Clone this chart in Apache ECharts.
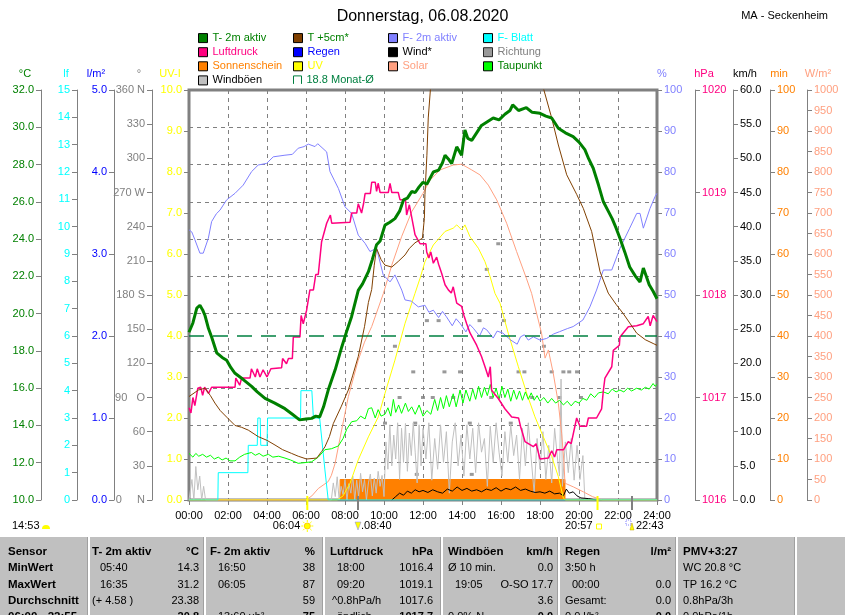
<!DOCTYPE html>
<html><head><meta charset="utf-8">
<script src="https://cdn.jsdelivr.net/npm/echarts@6/dist/echarts.min.js"></script>
<style>html,body{margin:0;padding:0;background:#fff}#c{width:845px;height:615px}</style>
</head><body><div id="c"></div>
<script>
// ---------- DATA (time in hours) ----------
const titleText = 'Donnerstag, 06.08.2020';
const stationText = 'MA - Seckenheim';
const monthAvg = 18.8;

const t2m = [[0,19.0],[0.1,18.95],[0.2,19.5],[0.4,20.3],[0.56,20.45],[0.7,20.2],[0.82,19.9],[1.0,19.2],[1.16,18.75],[1.42,17.9],[1.7,17.65],[1.93,17.5],[2.15,17.1],[2.36,16.8],[2.8,16.45],[3.21,16.1],[3.5,15.8],[3.9,15.45],[4.4,15.2],[4.92,14.9],[5.3,14.6],[5.67,14.3],[6.0,14.35],[6.29,14.38],[6.5,14.5],[6.7,14.45],[6.9,15.0],[7.14,15.9],[7.5,17.0],[7.83,18.2],[8.1,19.1],[8.34,19.85],[8.68,21.25],[8.9,21.6],[9.2,22.25],[9.4,22.9],[9.62,23.7],[9.8,23.9],[10.05,24.75],[10.3,24.9],[10.56,25.1],[10.8,25.5],[11.0,26.1],[11.2,26.2],[11.42,26.55],[11.6,26.5],[11.8,26.8],[12.0,27.05],[12.2,26.95],[12.53,27.6],[12.8,27.7],[13.0,28.1],[13.13,28.5],[13.3,28.3],[13.47,28.05],[13.73,28.95],[13.98,28.5],[14.15,29.85],[14.3,29.4],[14.5,29.3],[14.75,29.7],[15.0,30.1],[15.3,30.3],[15.6,30.5],[15.9,30.4],[16.2,30.7],[16.46,30.9],[16.6,31.2],[16.9,30.9],[17.3,31.05],[17.6,30.8],[18.0,30.75],[18.3,30.6],[18.6,30.5],[18.94,29.95],[19.3,29.7],[19.7,29.5],[20.0,29.2],[20.3,28.8],[20.5,28.3],[20.73,27.8],[21.0,26.9],[21.25,26.0],[21.5,25.5],[21.7,25.1],[21.9,24.6],[22.1,24.05],[22.35,23.3],[22.6,22.5],[22.9,22.0],[23.13,21.7],[23.3,22.45],[23.45,22.0],[23.6,21.55],[23.8,21.2],[24,20.8]];

const t5cm = [[0,15.55],[0.48,15.9],[0.82,16.0],[1.1,15.6],[1.33,15.2],[1.6,14.8],[1.93,14.45],[2.36,14.0],[2.7,13.9],[3.04,13.75],[3.55,13.4],[4.0,13.2],[4.41,12.95],[4.8,12.7],[5.26,12.5],[5.6,12.35],[6.03,12.2],[6.55,12.25],[6.8,12.6],[6.97,12.85],[7.2,13.4],[7.4,14.1],[7.8,15.0],[8.17,15.9],[8.4,16.7],[8.68,17.7],[9.0,19.3],[9.2,20.6],[9.37,21.3],[9.5,22.6],[9.62,23.5],[9.85,22.9],[10.05,22.6],[10.4,22.5],[10.73,22.8],[11.08,23.15],[11.3,23.5],[11.59,23.8],[11.97,24.05],[12.07,25.1],[12.1,26.4],[12.2,28.5],[12.27,30.5],[12.4,32.3],[12.6,35],[13,40],[14,45],[15,45],[16,43],[17,38],[17.8,33.5],[18.2,32.0],[18.6,30.5],[18.94,29.05],[19.37,27.45],[19.88,26.4],[20.22,25.65],[20.65,24.4],[21.08,22.25],[21.5,21.1],[21.9,20.5],[22.27,20.0],[22.6,19.5],[22.96,18.95],[23.4,18.6],[23.8,18.4],[24,18.3]];

const hum = [[0,65.9],[0.14,65.4],[0.3,63.5],[0.56,60.2],[0.73,60.2],[0.99,63.8],[1.16,67.9],[1.4,69.8],[1.59,70.7],[1.93,73.2],[2.36,74.8],[2.78,76.8],[3.21,80.1],[3.55,81.7],[3.98,82.1],[4.32,83.7],[4.92,84.1],[5.3,84.3],[5.6,85.8],[5.9,86.2],[6.12,86.8],[6.46,86.2],[6.6,86.9],[6.7,86.8],[7.06,84.9],[7.23,80.1],[7.45,78.0],[7.66,76.0],[8.0,71.5],[8.34,69.9],[8.68,64.6],[9.03,62.6],[9.28,60.6],[9.62,61.4],[9.96,54.9],[10.31,53.2],[10.56,54.9],[10.91,51.2],[11.08,48.8],[11.4,48.5],[11.76,47.1],[12.1,47.5],[12.3,45.8],[12.53,46.3],[12.8,44.5],[13.0,46.0],[13.2,44.7],[13.5,42.5],[13.7,44.2],[13.9,43.1],[14.2,41.0],[14.4,42.8],[14.58,41.9],[14.9,40.0],[15.1,42.0],[15.27,41.5],[15.6,39.5],[15.8,41.2],[16.1,40.7],[16.5,39.0],[16.83,38.0],[17.0,39.8],[17.2,40.3],[17.4,39.0],[17.66,39.8],[18.0,39.0],[18.34,39.4],[18.7,40.5],[19.0,41.05],[19.4,41.8],[19.7,42.3],[20.2,43.9],[20.56,47.1],[20.9,51.2],[21.25,56.1],[21.68,56.1],[22.1,61.4],[22.6,66.3],[22.96,69.9],[23.13,69.9],[23.3,66.3],[23.64,71.1],[23.9,74.0],[24,74.8]];

const leaf = [[0,0],[1.48,0],[1.5,1],[3.02,1],[3.04,2],[3.5,2],[3.53,3],[3.65,3],[3.68,2],[4.0,2],[4.03,3],[5.72,3],[5.74,4],[6.3,4],[6.38,3],[6.7,3],[6.97,1.1],[7.14,0],[24,0]];

const press = [[0,1016.9],[0.1,1016.85],[0.2,1017.0],[0.3,1016.92],[0.45,1017.09],[0.6,1017.1],[0.7,1017.02],[0.8,1017.1],[1.0,1017.04],[1.16,1017.1],[2.36,1017.1],[2.4,1017.19],[2.6,1017.12],[2.7,1017.19],[3.13,1017.19],[3.2,1017.28],[3.4,1017.2],[3.5,1017.28],[3.64,1017.2],[3.8,1017.27],[4.0,1017.2],[4.2,1017.28],[4.75,1017.29],[4.8,1017.38],[5.0,1017.33],[5.1,1017.38],[5.3,1017.38],[5.35,1017.59],[5.69,1017.59],[5.75,1017.8],[5.86,1017.72],[6.03,1017.85],[6.2,1018.05],[6.38,1018.05],[6.5,1018.2],[6.63,1018.2],[6.8,1018.52],[7.06,1018.7],[7.25,1018.78],[7.32,1018.7],[7.4,1018.71],[8.26,1018.71],[8.34,1018.8],[8.6,1018.8],[8.68,1018.89],[8.85,1018.8],[8.95,1018.89],[9.03,1018.99],[9.3,1018.99],[9.37,1019.1],[9.55,1019.1],[9.62,1019.01],[9.7,1019.09],[9.8,1019.0],[10.22,1019.0],[10.31,1019.09],[10.4,1019.0],[10.73,1019.0],[10.82,1018.93],[11.1,1018.93],[11.16,1018.78],[11.3,1018.88],[11.4,1018.78],[11.5,1018.68],[11.59,1018.59],[11.85,1018.5],[12.15,1018.5],[12.19,1018.42],[12.3,1018.36],[12.4,1018.42],[12.53,1018.31],[12.7,1018.37],[12.8,1018.3],[12.96,1018.21],[13.13,1018.1],[13.3,1018.05],[13.45,1018.02],[13.55,1018.08],[13.73,1017.92],[13.98,1017.89],[14.1,1017.8],[14.24,1017.72],[14.41,1017.63],[14.75,1017.51],[15.0,1017.4],[15.18,1017.3],[15.35,1017.2],[15.45,1017.3],[15.52,1017.07],[15.86,1016.99],[16.2,1016.89],[16.55,1016.81],[16.9,1016.8],[17.0,1016.72],[17.23,1016.57],[17.66,1016.52],[17.8,1016.55],[18.0,1016.4],[18.43,1016.41],[18.6,1016.48],[18.75,1016.42],[18.86,1016.49],[19.2,1016.49],[19.45,1016.57],[19.6,1016.55],[19.88,1016.8],[20.05,1016.72],[20.39,1016.72],[20.48,1016.8],[20.9,1016.8],[21.16,1016.89],[21.25,1017.07],[21.33,1017.19],[21.68,1017.3],[21.76,1017.46],[22.07,1017.51],[22.1,1017.59],[22.53,1017.69],[22.96,1017.7],[23.3,1017.72],[23.55,1017.79],[23.65,1017.7],[23.8,1017.8],[24,1017.74]];

const dew = [[0,12.5],[0.2,12.3],[0.35,12.5],[0.5,12.35],[0.7,12.45],[0.9,12.3],[1.1,12.4],[1.3,12.2],[1.5,12.3],[1.7,12.15],[1.9,12.25],[2.1,12.1],[2.36,12.1],[2.6,12.3],[2.85,12.45],[3.2,12.55],[3.4,12.4],[3.6,12.5],[3.8,12.35],[4.07,12.45],[4.3,12.3],[4.6,12.35],[4.92,12.25],[5.2,12.15],[5.6,11.97],[5.9,12.0],[6.29,12.05],[6.63,12.3],[6.97,12.7],[7.3,12.75],[7.66,12.9],[7.9,13.3],[8.09,13.8],[8.34,14.2],[8.6,14.25],[8.8,14.5],[9.03,14.35],[9.2,14.9],[9.37,14.95],[9.55,14.4],[9.7,14.85],[9.85,14.5],[10.05,14.6],[10.2,14.95],[10.35,14.5],[10.48,15.4],[10.6,14.7],[10.75,15.1],[10.9,14.65],[11.1,15.2],[11.25,14.75],[11.42,15.0],[11.6,14.6],[11.8,15.1],[12.0,14.5],[12.2,14.8],[12.4,14.6],[12.6,15.4],[12.75,14.8],[12.9,15.5],[13.05,14.9],[13.2,15.6],[13.35,15.0],[13.55,15.7],[13.7,15.0],[13.9,15.9],[14.05,15.2],[14.2,15.9],[14.4,15.3],[14.55,15.95],[14.7,15.4],[14.85,16.1],[15.0,15.5],[15.15,16.05],[15.3,15.6],[15.45,16.2],[15.6,15.5],[15.75,16.0],[15.9,15.4],[16.05,16.1],[16.2,15.5],[16.35,15.95],[16.5,15.3],[16.65,15.9],[16.8,15.4],[16.95,15.85],[17.1,15.35],[17.25,15.8],[17.4,15.4],[17.55,15.75],[17.7,15.35],[17.85,15.6],[18.0,15.3],[18.2,15.5],[18.4,15.2],[18.6,15.45],[18.8,15.2],[19.0,15.35],[19.2,15.1],[19.4,15.3],[19.6,15.05],[19.8,15.3],[20.0,15.2],[20.2,15.45],[20.4,15.35],[20.6,15.7],[20.8,15.5],[21.0,15.75],[21.25,15.8],[21.5,15.7],[21.7,15.95],[21.9,15.8],[22.1,15.9],[22.3,15.8],[22.5,16.0],[22.7,15.85],[22.96,16.0],[23.2,15.9],[23.4,16.05],[23.6,15.95],[23.8,16.25],[23.9,16.1],[24,16.2]];

const solar = [[0,0],[6.0,0],[6.3,10],[6.63,28],[7.14,45],[7.3,60],[7.49,89],[7.83,171],[8.17,252],[8.68,341],[9.0,385],[9.37,423],[9.97,504],[10.4,573],[10.9,642],[11.42,703],[12.0,748],[12.36,780],[12.87,805],[13.55,817],[13.98,819],[14.5,805],[14.92,793],[15.35,768],[15.78,732],[16.29,675],[16.8,606],[17.3,541],[17.57,504],[18.08,407],[18.26,346],[18.43,366],[18.68,309],[18.94,236],[19.11,163],[19.23,90],[19.28,41],[19.71,32],[20.22,20],[20.7,8],[21.08,2],[21.2,0],[24,0]];

const uv = [[0,0],[7.6,0],[7.9,0.1],[8.26,0.41],[8.68,0.98],[9.2,1.54],[9.71,2.03],[10.05,2.6],[10.56,3.41],[11.08,4.31],[11.59,5.04],[11.85,5.41],[12.1,5.81],[12.53,6.22],[13.13,6.55],[13.55,6.63],[13.73,6.71],[13.98,6.59],[14.15,6.71],[14.41,6.42],[14.84,6.14],[15.18,5.81],[15.44,5.45],[15.69,5.04],[15.95,4.8],[16.37,4.07],[16.89,3.25],[17.32,2.6],[17.74,2.03],[18.17,1.54],[18.6,1.06],[18.94,0.57],[19.2,0.05],[19.3,0],[24,0]];

const sunshine = [[0,0],[7.75,0],[7.75,5],[19.28,5],[19.28,0],[24,0]];

const gust = [[0,0],[0.15,3.0],[0.25,0],[0.35,4.9],[0.45,1.5],[0.55,3.5],[0.65,0],[0.75,2.0],[0.85,0],[7.3,0],[7.4,2.5],[7.5,0.5],[7.6,3.4],[7.7,0],[7.8,2.0],[7.9,0.8],[8.0,3.0],[8.1,0],[8.2,2.4],[8.3,1.0],[8.4,3.5],[8.5,0],[8.6,2.9],[8.7,0.5],[8.8,3.9],[8.9,1.2],[9.0,3.0],[9.1,0],[9.2,2.5],[9.3,3.8],[9.4,0.6],[9.5,3.2],[9.6,1.0],[9.7,4.2],[9.8,2.0],[9.9,3.6],[10.0,0.5],[10.1,8.5],[10.2,4.5],[10.3,11.0],[10.4,5.0],[10.5,9.5],[10.6,6.0],[10.7,11.3],[10.8,3.0],[10.9,10.5],[11.0,5.5],[11.1,11.2],[11.2,4.2],[11.3,9.8],[11.4,6.5],[11.5,11.3],[11.6,7.0],[11.7,2.5],[11.8,11.0],[11.9,5.0],[12.0,10.5],[12.15,6.0],[12.3,11.3],[12.45,2.9],[12.6,9.0],[12.75,4.5],[12.9,11.0],[13.05,5.5],[13.2,10.0],[13.35,1.0],[13.5,8.5],[13.65,11.3],[13.8,5.0],[13.95,9.5],[14.1,3.5],[14.25,11.0],[14.4,6.0],[14.55,10.5],[14.7,4.0],[14.85,11.3],[15.0,7.0],[15.15,9.0],[15.3,2.0],[15.45,10.8],[15.6,5.5],[15.75,11.3],[15.9,7.0],[16.05,3.5],[16.2,10.0],[16.35,5.5],[16.5,11.0],[16.65,6.5],[16.8,9.5],[16.95,3.0],[17.1,10.5],[17.25,5.0],[17.4,11.3],[17.55,6.0],[17.7,1.0],[17.85,9.0],[18.0,4.5],[18.15,10.0],[18.3,3.0],[18.45,8.0],[18.6,2.5],[18.75,10.5],[18.9,6.0],[19.0,3.5],[19.08,17.7],[19.15,2.0],[19.3,8.5],[19.45,4.0],[19.6,9.0],[19.75,2.9],[19.9,8.0],[20.05,3.0],[20.2,6.5],[20.3,0]];

const wind = [[10.4,0],[10.6,0.5],[10.8,1.0],[11.0,0.7],[11.2,1.3],[11.4,1.0],[11.6,1.5],[11.8,1.2],[12.0,1.4],[12.25,1.1],[12.5,1.5],[12.75,1.2],[13.0,1.0],[13.25,1.6],[13.5,1.3],[13.75,1.9],[14.0,1.4],[14.25,1.7],[14.5,1.3],[14.75,1.5],[15.0,1.2],[15.25,1.6],[15.5,1.4],[15.75,1.8],[16.0,1.3],[16.25,1.7],[16.5,1.5],[16.75,1.9],[17.0,1.4],[17.25,1.6],[17.5,1.3],[17.75,1.1],[18.0,1.2],[18.25,1.0],[18.5,1.3],[18.75,0.9],[19.0,1.0],[19.2,0.6],[19.35,1.6],[19.5,1.0],[19.7,1.2],[19.9,0.6],[20.1,0.3],[20.5,0.2],[20.9,0]];

const direction = [[10.05,67.5],[10.56,135],[10.8,90],[11.5,112.5],[11.6,67.5],[11.68,22.5],[12.0,90],[12.2,157.5],[12.5,90],[12.8,157.5],[13.1,112.5],[13.55,90],[13.9,112.5],[14.4,67.5],[14.5,22.5],[14.9,157.5],[15.27,202.5],[15.5,90],[15.86,225],[16.15,157.5],[16.5,67.5],[16.9,112.5],[17.2,112.5],[17.6,90],[18.2,135],[18.6,112.5],[19.0,90],[19.2,112.5],[19.5,112.5],[19.9,112.5],[20.1,90]];

const rain = [];

// events below the time axis
const dayLength = '14:53';
const sunrise = {t:6.067, label:'06:04'};
const sunset = {t:20.95, label:'20:57'};
const moonrise = {t:8.667, label:'08:40'};
const moonset = {t:22.717, label:'22:43'};

// table texts
const tableRowLabels = ['Sensor','MinWert','MaxWert','Durchschnitt','06:00 - 22:55'];
const tableCols = [
  {head:'T- 2m aktiv', unit:'°C', left:92, right:199, rows:[['05:40','14.3',8],['16:35','31.2',8],['(+ 4.58 )','23.38',0],['','20.8',8]]},
  {head:'F- 2m aktiv', unit:'%', left:210, right:315, rows:[['16:50','38',8],['06:05','87',8],['','59',8],['13:60 ub²','75',8]]},
  {head:'Luftdruck', unit:'hPa', left:330, right:433, rows:[['18:00','1016.4',7],['09:20','1019.1',7],['^0.8hPa/h','1017.6',2],['ändlich','1017.7',7]]},
  {head:'Windböen', unit:'km/h', left:448, right:553, rows:[['Ø 10 min.','0.0',0],['19:05','O-SO 17.7',7],['','3.6',0],['0.0% N','0.0',0]]},
  {head:'Regen', unit:'l/m²', left:565, right:671, rows:[['3:50 h','',0],['00:00','0.0',7],['Gesamt:','0.0',0],['0.0 l/h²','0.0',0]]},
  {head:'PMV+3:27', unit:'', left:683, right:790, rows:[['WC 20.8 °C','',0],['TP 16.2 °C','',0],['0.8hPa/3h','',0],['0.0hPa/1h','',0]]}
];
const tableSeparators = [88,204,323,441,558,676,795];
const tableRowY = [552,568,585,601,617];

// axis unit captions
const axisUnits = [
  ['°C',25,'#008000'],['lf',66,'#00ffff'],['l/m²',96,'#0000ff'],['°',139,'#808080'],['UV-I',170,'#ffff00'],
  ['%',662,'#8080ff'],['hPa',704,'#ff0080'],['km/h',745,'#000000'],['min',779,'#ff8000'],['W/m²',818,'#ffa080']
];

// ---------- CHART ----------
const FF = '"Liberation Sans", Arial, sans-serif';
const GRID = {left:189, right:188, top:90, bottom:115};
const chart = echarts.init(document.getElementById('c'));

function yAx(pos, offset, min, max, interval, color, fmt, showLine) {
  return {
    type:'value', position:pos, offset, min, max, interval,
    axisLine:{show:showLine!==false, onZero:false, lineStyle:{color:'#808080', width:1}},
    axisTick:{show:true, length:5, lineStyle:{color:'#808080'}},
    axisLabel:{color, fontFamily:FF, fontSize:11, margin:7, formatter:fmt},
    splitLine:{show:false}
  };
}
const dirNames = {360:'360 N',270:'270 W',180:'180 S',90:'90   O',0:'0     N'};
const f1 = v => v.toFixed(1);
const yAxes = [
  Object.assign(yAx('left',148,10,32,2,'#008000',f1), {splitLine:{show:true, lineStyle:{color:'#808080', type:[4,4], width:1}}}),
  yAx('left',112,0,15,1,'#00ffff',v=>String(v)),
  yAx('left',75,0,5,1,'#0000ff',f1),
  yAx('left',37,0,360,30,'#808080',v=>dirNames[v]!==undefined?dirNames[v]:String(v)),
  yAx('left',0,0,10,1,'#ffff00',f1,false),
  yAx('right',0,0,100,10,'#8080ff',v=>String(v),false),
  yAx('right',38,1016,1020,1,'#ff0080',v=>String(v)),
  yAx('right',76,0,60,5,'#000000',f1),
  yAx('right',113,0,100,10,'#ff8000',v=>String(v)),
  yAx('right',150,0,1000,50,'#ffa080',v=>String(v))
];

function line(name, data, yIdx, color, width, extra) {
  return Object.assign({
    name, type:'line', data, yAxisIndex:yIdx, xAxisIndex:0, color,
    showSymbol:false, symbol:'none', clip:true, animation:false,
    lineStyle:{color, width}, itemStyle:{color}, emphasis:{disabled:true}
  }, extra||{});
}

const series = [
  line('Sonnenschein', sunshine, 8, '#ff8000', 1, {areaStyle:{color:'#ff8000', opacity:1}}),
  line('Windböen', gust, 7, '#c0c0c0', 1),
  line('Wind*', wind, 7, '#000000', 1),
  {name:'Richtung', type:'scatter', data:direction, yAxisIndex:3, color:'#808080', symbol:'rect', symbolSize:[4,3], itemStyle:{color:'#808080'}, animation:false, emphasis:{disabled:true}},
  line('Solar', solar, 9, '#ffa080', 1),
  line('UV', uv, 4, '#ffff00', 1),
  line('F- Blatt', leaf, 1, '#00ffff', 1),
  line('Regen', rain, 2, '#0000ff', 1),
  line('Taupunkt', dew, 0, '#00ff00', 1),
  line('F- 2m aktiv', hum, 5, '#8080ff', 1),
  line('Luftdruck', press, 6, '#ff0080', 1.5),
  line('18.8 Monat-Ø', [[0,monthAvg],[24,monthAvg]], 0, '#008040', 1.5, {lineStyle:{color:'#008040', width:1.5, type:[15,9]}}),
  line('T +5cm*', t5cm, 0, '#804000', 1),
  line('T- 2m aktiv', t2m, 0, '#008000', 3)
];

function leg(left, top, items) {
  return {
    left, top, padding:0, orient:'vertical', itemWidth:9, itemHeight:9, itemGap:3.1, selectedMode:false,
    icon:'rect', itemStyle:{borderColor:'#000', borderWidth:1},
    textStyle:{fontFamily:FF, fontSize:11},
    data: items.map(([n,c]) => ({name:n, textStyle:{color:c}}))
  };
}
const legends = [
  leg(198, 32.6, [['T- 2m aktiv','#008000'],['Luftdruck','#ff0080'],['Sonnenschein','#ff8000'],['Windböen','#000000']]),
  leg(293, 32.6, [['T +5cm*','#008000'],['Regen','#0000ff'],['UV','#ffff00']]),
  leg(388, 32.6, [['F- 2m aktiv','#8080ff'],['Wind*','#000000'],['Solar','#ffa080']]),
  leg(483, 32.6, [['F- Blatt','#00ffff'],['Richtung','#808080'],['Taupunkt','#008000']])
];
// Monat-Ø legend item with open-bracket icon
legends.push({
  left:293, top:74.4, padding:0, orient:'vertical', itemWidth:8, itemHeight:9, selectedMode:false,
  textStyle:{fontFamily:FF, fontSize:11, color:'#008040'},
  data:[{name:'18.8 Monat-Ø', icon:'path://M0,10L0,0L10,0L10,10', itemStyle:{color:'rgba(0,0,0,0)', borderColor:'#008040', borderWidth:1}}]
});

const pad2 = v => (v<10?'0':'')+v;

chart.setOption({
  animation:false,
  backgroundColor:'#ffffff',
  textStyle:{fontFamily:FF},
  title:[
    {text:titleText, left:'center', top:4, textStyle:{fontFamily:FF, fontSize:16, fontWeight:'normal', color:'#000'}},
    {text:stationText, right:12, top:5, textStyle:{fontFamily:FF, fontSize:11, fontWeight:'normal', color:'#000'}}
  ],
  legend: legends,
  grid: Object.assign({show:true, borderColor:'#808080', borderWidth:3, backgroundColor:'transparent', containLabel:false}, GRID),
  xAxis: {
    type:'value', min:0, max:24, interval:2,
    axisLine:{show:false},
    axisTick:{show:true, length:5, lineStyle:{color:'#808080'}},
    axisLabel:{color:'#000', fontFamily:FF, fontSize:11, margin:10, formatter:v=>pad2(v)+':00'},
    splitLine:{show:true, lineStyle:{color:'#808080', type:[4,4], width:1}}
  },
  yAxis: yAxes,
  series
});

// ---------- decorations (text, table, event markers) ----------
function txt(s, x, y, color, o) {
  o = o || {};
  return {type:'text', x, y, silent:true, z:100,
    style:{text:s, fill:color||'#000', font:(o.bold?'bold ':'')+(o.size||11)+'px '+FF, align:o.align||'left', verticalAlign:'middle'}};
}
const g = [];
axisUnits.forEach(([s,x,c]) => g.push(txt(s, x, 74, c, {align:'center'})));

// event markers computed from axis scale
const bottomY = chart.convertToPixel({yAxisIndex:0}, 10);
const xs = t => chart.convertToPixel({xAxisIndex:0}, t);
[[sunrise,'#ffff00'],[sunset,'#ffff00'],[moonrise,'#808080'],[moonset,'#808080']].forEach(([e,c]) => {
  g.push({type:'line', silent:true, z:90, shape:{x1:xs(e.t), y1:bottomY-4, x2:xs(e.t), y2:bottomY+10}, style:{stroke:c, lineWidth:2}});
});
const evY = 526;
g.push(txt(dayLength, 12, evY, '#000'));
g.push({type:'sector', silent:true, z:100, shape:{cx:46, cy:evY+3, r0:0, r:4, startAngle:Math.PI, endAngle:2*Math.PI}, style:{fill:'#ffff00'}});
g.push(txt(sunrise.label, xs(sunrise.t)-7, evY, '#000', {align:'right'}));
g.push({type:'circle', silent:true, z:100, shape:{cx:xs(sunrise.t), cy:evY, r:3}, style:{fill:'#ffff00', stroke:'#ffd000', lineWidth:1}});
for (let k=0;k<8;k++){ const a=k*Math.PI/4, cx=xs(sunrise.t);
  g.push({type:'line', silent:true, z:100, shape:{x1:cx+Math.cos(a)*4, y1:evY+Math.sin(a)*4, x2:cx+Math.cos(a)*6, y2:evY+Math.sin(a)*6}, style:{stroke:'#ffff00', lineWidth:1}}); }
g.push({type:'polygon', silent:true, z:100, shape:{points:[[xs(moonrise.t)-3,evY-4],[xs(moonrise.t)+3,evY-4],[xs(moonrise.t),evY+4]]}, style:{fill:'#ffff00', stroke:'#8080ff', lineWidth:0.5}});
g.push(txt('.'+moonrise.label, xs(moonrise.t)+3, evY, '#000'));
g.push(txt(sunset.label, xs(sunset.t)-5, evY, '#000', {align:'right'}));
g.push({type:'rect', silent:true, z:100, shape:{x:xs(sunset.t)-1, y:evY-2, width:5, height:5}, style:{fill:'#fff', stroke:'#ffff00', lineWidth:1}});
g.push({type:'rect', silent:true, z:100, shape:{x:xs(moonset.t)-6, y:evY-6, width:5, height:5}, style:{fill:'none', stroke:'#8080ff', lineWidth:1, lineDash:[1,1]}});
g.push({type:'polygon', silent:true, z:100, shape:{points:[[xs(moonset.t)-2,evY+4],[xs(moonset.t)+2,evY+4],[xs(moonset.t),evY-3]]}, style:{fill:'#ffff00', stroke:'#c0a000', lineWidth:0.5}});
g.push(txt(moonset.label, xs(moonset.t)+4, evY, '#000'));

// table
g.push({type:'rect', silent:true, z:50, shape:{x:0, y:537, width:845, height:78}, style:{fill:'#c0c0c0'}});
tableSeparators.forEach(x => {
  g.push({type:'rect', silent:true, z:51, shape:{x:x-1, y:537, width:1, height:78}, style:{fill:'#a0a0a0'}});
  g.push({type:'rect', silent:true, z:51, shape:{x:x, y:537, width:2, height:78}, style:{fill:'#ffffff'}});
});
tableRowLabels.forEach((s,i) => g.push(txt(s, 8, tableRowY[i], '#000', {bold:true, size:11.5})));
tableCols.forEach(col => {
  g.push(txt(col.head, col.left, tableRowY[0], '#000', {bold:true, size:11.5}));
  if (col.unit) g.push(txt(col.unit, col.right, tableRowY[0], '#000', {bold:true, size:11.5, align:'right'}));
  col.rows.forEach((r,i) => {
    const last = i===3;
    if (r[0]) g.push(txt(r[0], col.left + r[2], tableRowY[i+1], '#000', {bold:false}));
    if (r[1]) g.push(txt(r[1], col.right, tableRowY[i+1], '#000', {bold:last, align:'right'}));
  });
});

chart.setOption({graphic: g});
</script></body></html>
